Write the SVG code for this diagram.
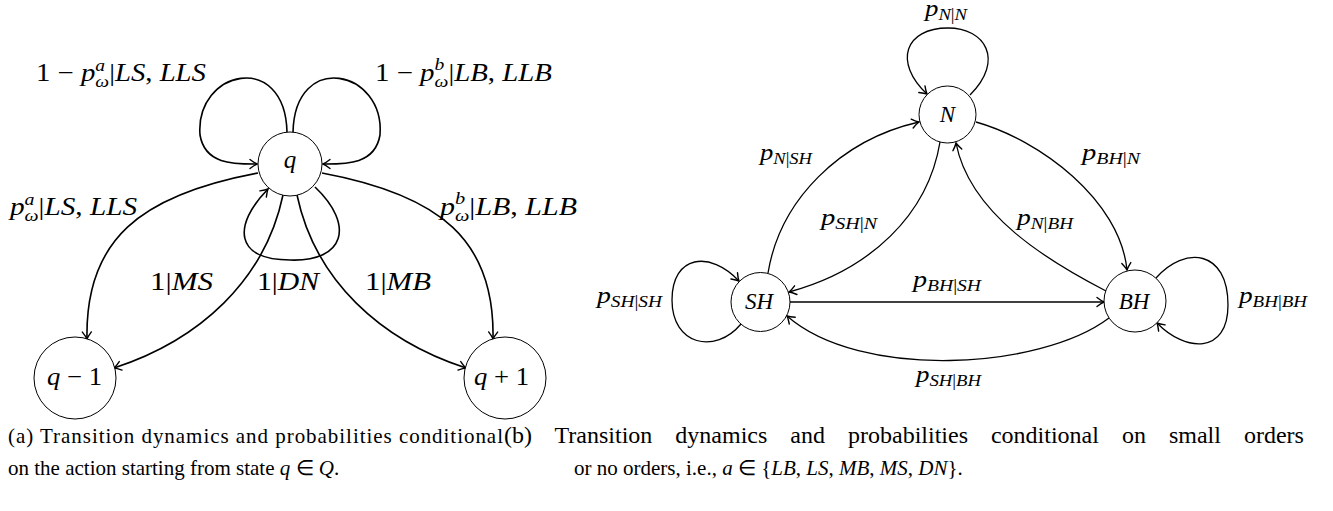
<svg xmlns="http://www.w3.org/2000/svg" width="1333" height="511" viewBox="0 0 1333 511">
<style>
text{font-family:"Liberation Serif","Times New Roman",serif;fill:#000}
.nd circle{fill:#fff;stroke:#000;stroke-width:1}
.el path{fill:none;stroke:#000;stroke-width:1.6;marker-end:url(#ah)}
.er path{fill:none;stroke:#000;stroke-width:1.3;marker-end:url(#ah)}
.ml{font-size:25px}
.mr{font-size:23px}
.i{font-style:italic}
.cap{font-size:21px}
.capb{font-size:24px;word-spacing:17px}
</style>
<defs>
<marker id="ah" viewBox="-9 -6 11 12" refX="0" refY="0" markerWidth="11" markerHeight="12" markerUnits="userSpaceOnUse" orient="auto">
<path d="M -7 -4.5 Q -2.5 -1 0 0 Q -2.5 1 -7 4.5" fill="none" stroke="#000" stroke-width="1.4" stroke-linecap="round"/>
</marker>
</defs>

<g id="connectors">
<g class="el">
<path d="M 287 132 C 285 50, 195 70, 200 135 C 205 165, 235 164, 257 164"/>
<path d="M 293 132 C 295 50, 385 70, 380 135 C 375 165, 345 164, 323 164"/>
<path d="M 258 173 C 140 195, 85 240, 87 339"/>
<path d="M 322 173 C 440 195, 495 240, 493 339"/>
<path d="M 283 195 C 265 280, 200 340, 114 368"/>
<path d="M 297 195 C 315 280, 380 340, 466 368"/>
<path d="M 315 187 C 355 225, 345 262, 290 260 C 235 260, 232 226, 268 189"/>
</g>
<g class="er">
<path d="M 970 95 C 1005 60, 985 28, 948 28 C 905 28, 893 62, 927 94"/>
<path d="M 768 273 C 780 200, 840 140, 919 122"/>
<path d="M 976 122 C 1040 140, 1120 200, 1127 270"/>
<path d="M 940 142 C 928 215, 870 270, 789 292"/>
<path d="M 1106 291 C 1050 262, 970 215, 956 143"/>
<path d="M 790 302 L 1104 302"/>
<path d="M 1109 318 C 1040 370, 860 380, 787 316"/>
<path d="M 741 324 C 715 355, 672 345, 672 300 C 672 255, 710 250, 739 281"/>
<path d="M 1156 278 C 1185 245, 1228 250, 1228 305 C 1228 355, 1185 352, 1157 323"/>
</g>
</g>

<g id="edge-labels">
<text x="36" y="81" class="ml" textLength="170" lengthAdjust="spacingAndGlyphs">1 − <tspan class="i">p</tspan><tspan class="i" font-size="17" dy="-10">a</tspan><tspan class="i" font-size="17" dx="-8.5" dy="16">ω</tspan><tspan dy="-6">|</tspan><tspan class="i">LS</tspan>, <tspan class="i">LLS</tspan></text>
<text x="375" y="81" class="ml" textLength="177" lengthAdjust="spacingAndGlyphs">1 − <tspan class="i">p</tspan><tspan class="i" font-size="17" dy="-11">b</tspan><tspan class="i" font-size="17" dx="-8.5" dy="17">ω</tspan><tspan dy="-6">|</tspan><tspan class="i">LB</tspan>, <tspan class="i">LLB</tspan></text>
<text x="10" y="215" class="ml" textLength="127" lengthAdjust="spacingAndGlyphs"><tspan class="i">p</tspan><tspan class="i" font-size="17" dy="-10">a</tspan><tspan class="i" font-size="17" dx="-8.5" dy="16">ω</tspan><tspan dy="-6">|</tspan><tspan class="i">LS</tspan>, <tspan class="i">LLS</tspan></text>
<text x="440" y="215" class="ml" textLength="137" lengthAdjust="spacingAndGlyphs"><tspan class="i">p</tspan><tspan class="i" font-size="17" dy="-11">b</tspan><tspan class="i" font-size="17" dx="-8.5" dy="17">ω</tspan><tspan dy="-6">|</tspan><tspan class="i">LB</tspan>, <tspan class="i">LLB</tspan></text>
<text x="150" y="290" class="ml" textLength="63" lengthAdjust="spacingAndGlyphs">1|<tspan class="i">MS</tspan></text>
<text x="257" y="290" class="ml" textLength="62" lengthAdjust="spacingAndGlyphs">1|<tspan class="i">DN</tspan></text>
<text x="365" y="290" class="ml" textLength="66" lengthAdjust="spacingAndGlyphs">1|<tspan class="i">MB</tspan></text>

<text x="925" y="16" class="mr" textLength="42" lengthAdjust="spacingAndGlyphs"><tspan class="i">p</tspan><tspan font-size="16" dy="4"><tspan class="i">N</tspan>|<tspan class="i">N</tspan></tspan></text>
<text x="760" y="160" class="mr" textLength="52" lengthAdjust="spacingAndGlyphs"><tspan class="i">p</tspan><tspan font-size="16" dy="4"><tspan class="i">N</tspan>|<tspan class="i">SH</tspan></tspan></text>
<text x="1082" y="160" class="mr" textLength="58" lengthAdjust="spacingAndGlyphs"><tspan class="i">p</tspan><tspan font-size="16" dy="4"><tspan class="i">BH</tspan>|<tspan class="i">N</tspan></tspan></text>
<text x="821" y="225" class="mr" textLength="56" lengthAdjust="spacingAndGlyphs"><tspan class="i">p</tspan><tspan font-size="16" dy="4"><tspan class="i">SH</tspan>|<tspan class="i">N</tspan></tspan></text>
<text x="1017" y="225" class="mr" textLength="56" lengthAdjust="spacingAndGlyphs"><tspan class="i">p</tspan><tspan font-size="16" dy="4"><tspan class="i">N</tspan>|<tspan class="i">BH</tspan></tspan></text>
<text x="913" y="287" class="mr" textLength="68" lengthAdjust="spacingAndGlyphs"><tspan class="i">p</tspan><tspan font-size="16" dy="4"><tspan class="i">BH</tspan>|<tspan class="i">SH</tspan></tspan></text>
<text x="916" y="382" class="mr" textLength="65" lengthAdjust="spacingAndGlyphs"><tspan class="i">p</tspan><tspan font-size="16" dy="4"><tspan class="i">SH</tspan>|<tspan class="i">BH</tspan></tspan></text>
<text x="597" y="303" class="mr" textLength="65" lengthAdjust="spacingAndGlyphs"><tspan class="i">p</tspan><tspan font-size="16" dy="4"><tspan class="i">SH</tspan>|<tspan class="i">SH</tspan></tspan></text>
<text x="1239" y="303" class="mr" textLength="68" lengthAdjust="spacingAndGlyphs"><tspan class="i">p</tspan><tspan font-size="16" dy="4"><tspan class="i">BH</tspan>|<tspan class="i">BH</tspan></tspan></text>
</g>

<g id="node-q" class="nd"><circle cx="290" cy="164" r="32"/><text x="290" y="168" class="ml i" text-anchor="middle">q</text></g>
<g id="node-qm1" class="nd"><circle cx="75" cy="378" r="41"/><text x="47" y="385" class="ml" textLength="55" lengthAdjust="spacingAndGlyphs"><tspan class="i">q</tspan> − 1</text></g>
<g id="node-qp1" class="nd"><circle cx="505" cy="378" r="41"/><text x="474" y="385" class="ml" textLength="55" lengthAdjust="spacingAndGlyphs"><tspan class="i">q</tspan> + 1</text></g>

<g id="node-N" class="nd"><circle cx="947.5" cy="114.5" r="28.5"/><text x="947.5" y="122" class="mr i" text-anchor="middle">N</text></g>
<g id="node-SH" class="nd"><circle cx="760.5" cy="302" r="29.5"/><text x="759" y="309" class="mr i" text-anchor="middle">SH</text></g>
<g id="node-BH" class="nd"><circle cx="1135" cy="301" r="31"/><text x="1134" y="309" class="mr i" text-anchor="middle">BH</text></g>

<g id="captions">
<text x="8" y="443" class="cap" textLength="495" lengthAdjust="spacing">(a) Transition dynamics and probabilities conditional</text>
<text x="8" y="475" class="cap">on the action starting from state <tspan class="i">q</tspan> ∈ <tspan class="i">Q</tspan>.</text>
<text x="504" y="443" class="capb">(b) Transition dynamics and probabilities conditional on small orders</text>
<text x="574" y="475" class="cap">or no orders, i.e., <tspan class="i">a</tspan> ∈ {<tspan class="i">LB</tspan>, <tspan class="i">LS</tspan>, <tspan class="i">MB</tspan>, <tspan class="i">MS</tspan>, <tspan class="i">DN</tspan>}.</text>
</g>
</svg>
